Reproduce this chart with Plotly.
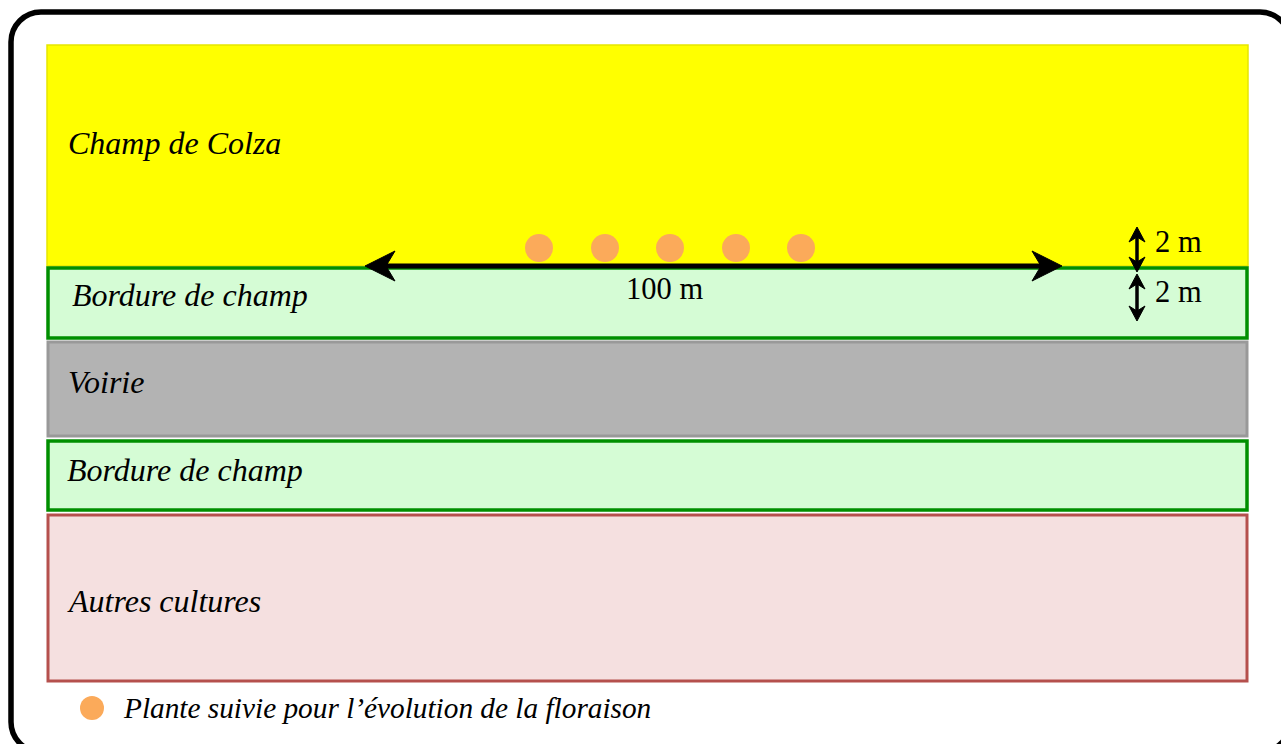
import plotly.graph_objects as go

# ---------------- data ----------------
zone_labels = ["Champ de Colza", "Bordure de champ", "Voirie", "Bordure de champ", "Autres cultures"]
plant_names = ["Plante 1", "Plante 2", "Plante 3", "Plante 4", "Plante 5"]
plant_x = [539, 605, 670, 736, 801]
transect_label = "100 m"
width_labels = ["2 m", "2 m"]
legend_label = "Plante suivie pour l’évolution de la floraison"

# ---------------- layout geometry / styles ----------------
W, H = 1281, 744
zone_boxes = [  # x0, y0, x1, y1
    (47, 45, 1248, 266),
    (48, 268, 1247, 338),
    (48, 342, 1247, 436),
    (48, 441, 1247, 510),
    (48, 515, 1247, 681),
]
zone_fill = ["#ffff00", "#d5fcd5", "#b3b3b3", "#d5fcd5", "#f5e0e0"]
zone_line = ["#e6e600", "#008f00", "#999999", "#008f00", "#b5504d"]
zone_lw = [1.5, 3.5, 3, 3.5, 3]
zone_label_pos = [(66, 143), (70, 295), (66, 382), (65, 470), (65, 601)]
FONT = "Liberation Serif"
ORANGE = "#fbaa5a"

fig = go.Figure()
shapes = []


def rrect(x0, y0, x1, y1, r):
    k = 0.5523 * r
    return (f"M {x0+r},{y0} L {x1-r},{y0} C {x1-r+k},{y0} {x1},{y0+r-k} {x1},{y0+r} "
            f"L {x1},{y1-r} C {x1},{y1-r+k} {x1-r+k},{y1} {x1-r},{y1} "
            f"L {x0+r},{y1} C {x0+r-k},{y1} {x0},{y1-r+k} {x0},{y1-r} "
            f"L {x0},{y0+r} C {x0},{y0+r-k} {x0+r-k},{y0} {x0+r},{y0} Z")


def head(tx, ty, dx, dy, length, hw, notch):
    nx, ny = -dy, dx
    bx, by = tx - dx * length, ty - dy * length
    p1 = (bx + nx * hw, by + ny * hw)
    p2 = (bx - nx * hw, by - ny * hw)
    pn = (tx - dx * notch, ty - dy * notch)
    return (f"M {tx},{ty} L {p1[0]},{p1[1]} L {pn[0]},{pn[1]} L {p2[0]},{p2[1]} Z")


# outer rounded frame
shapes.append(dict(type="path", path=rrect(11, 12, 1290, 752, 30), line=dict(color="black", width=5.5),
                   fillcolor="rgba(0,0,0,0)", xref="x", yref="y", layer="below"))

# zones
for (x0, y0, x1, y1), fc, lc, lw in zip(zone_boxes, zone_fill, zone_line, zone_lw):
    shapes.append(dict(type="rect", x0=x0, y0=y0, x1=x1, y1=y1, fillcolor=fc,
                       line=dict(color=lc, width=lw), xref="x", yref="y", layer="below"))

# horizontal 100 m arrow
ay = 266
shapes.append(dict(type="line", x0=380, y0=ay, x1=1047, y1=ay, line=dict(color="black", width=5),
                   xref="x", yref="y", layer="below"))
shapes.append(dict(type="path", path=head(365, ay, -1, 0, 30, 15, 21), fillcolor="black",
                   line=dict(color="black", width=1), xref="x", yref="y", layer="below"))
shapes.append(dict(type="path", path=head(1062, ay, 1, 0, 30, 15, 21), fillcolor="black",
                   line=dict(color="black", width=1), xref="x", yref="y", layer="below"))

# vertical 2 m arrows
vx = 1137
for (ya, yb) in [(227, 272), (274, 321)]:
    shapes.append(dict(type="line", x0=vx, y0=ya + 8, x1=vx, y1=yb - 8, line=dict(color="black", width=3.5),
                       xref="x", yref="y", layer="below"))
    shapes.append(dict(type="path", path=head(vx, ya, 0, -1, 15, 8, 10), fillcolor="black",
                       line=dict(color="black", width=1), xref="x", yref="y", layer="below"))
    shapes.append(dict(type="path", path=head(vx, yb, 0, 1, 15, 8, 10), fillcolor="black",
                       line=dict(color="black", width=1), xref="x", yref="y", layer="below"))

# plants
fig.add_trace(go.Scatter(x=plant_x, y=[248] * len(plant_x), mode="markers", text=plant_names,
                         marker=dict(size=28, color=ORANGE, line=dict(width=0)), hoverinfo="text",
                         showlegend=False))
# legend marker
fig.add_trace(go.Scatter(x=[92], y=[708], mode="markers", marker=dict(size=24, color=ORANGE, line=dict(width=0)),
                         hoverinfo="skip", showlegend=False))

annotations = []
for lab, (x, y) in zip(zone_labels, zone_label_pos):
    annotations.append(dict(x=x, y=y, text=lab, showarrow=False, xanchor="left", yanchor="middle",
                            font=dict(family=FONT, size=32, color="black", style="italic")))
annotations.append(dict(x=664, y=289, text=transect_label, showarrow=False, xanchor="center", yanchor="middle",
                        font=dict(family=FONT, size=30.5, color="black")))
for lab, y in zip(width_labels, [242, 292]):
    annotations.append(dict(x=1153, y=y, text=lab, showarrow=False, xanchor="left", yanchor="middle",
                            font=dict(family=FONT, size=30.5, color="black")))
annotations.append(dict(x=121, y=708, text=legend_label, showarrow=False, xanchor="left", yanchor="middle",
                        font=dict(family=FONT, size=29.3, color="black", style="italic")))

fig.update_layout(
    width=W, height=H, margin=dict(l=0, r=0, t=0, b=0),
    paper_bgcolor="white", plot_bgcolor="white",
    xaxis=dict(range=[0, W], visible=False, fixedrange=True),
    yaxis=dict(range=[H, 0], visible=False, fixedrange=True),
    shapes=shapes, annotations=annotations, showlegend=False,
)
fig.write_html("out.html", config={"displayModeBar": False},
               post_script="document.body.style.margin='0';document.body.style.overflow='hidden';")
